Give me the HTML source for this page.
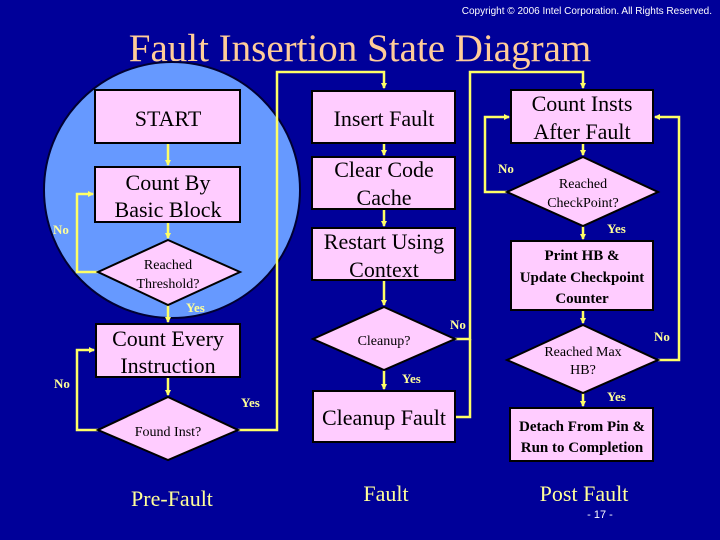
<!DOCTYPE html>
<html><head><meta charset="utf-8"><style>
html,body{margin:0;padding:0;background:#000099;}
svg{display:block}
</style></head><body>
<svg width="720" height="540" viewBox="0 0 720 540" xmlns="http://www.w3.org/2000/svg">
<defs><marker id="a" markerWidth="6" markerHeight="6" refX="5" refY="3" orient="auto" markerUnits="userSpaceOnUse"><path d="M0,0 L6,3 L0,6Z" fill="#ffff66"/></marker></defs>
<rect width="720" height="540" fill="#000099"/>
<text x="712" y="14" text-anchor="end" font-family="Liberation Sans, sans-serif" font-size="10" fill="#fff">Copyright © 2006  Intel Corporation.  All Rights Reserved.</text>
<text x="360" y="61" text-anchor="middle" font-family="Liberation Serif, serif" font-size="39" fill="#ffcc99">Fault Insertion State Diagram</text>
<circle cx="172" cy="190" r="128" fill="#6699ff" stroke="#000033" stroke-width="2"/>

<g fill="none" stroke="#ffff66" stroke-width="2.5">
<line x1="168" y1="143" x2="168" y2="165" marker-end="url(#a)"/>
<line x1="168" y1="222" x2="168" y2="238" marker-end="url(#a)"/>
<polyline points="98,272 77,272 77,194 93,194" marker-end="url(#a)"/>
<line x1="168" y1="305" x2="168" y2="322" marker-end="url(#a)"/>
<line x1="168" y1="377" x2="168" y2="395" marker-end="url(#a)"/>
<polyline points="98,430 77,430 77,350 94,350" marker-end="url(#a)"/>
<polyline points="238,430 277,430 277,72 384,72 384,88" marker-end="url(#a)"/>
<line x1="384" y1="143" x2="384" y2="155" marker-end="url(#a)"/>
<line x1="384" y1="209" x2="384" y2="226" marker-end="url(#a)"/>
<line x1="384" y1="280" x2="384" y2="305" marker-end="url(#a)"/>
<line x1="384" y1="370" x2="384" y2="389" marker-end="url(#a)"/>
<polyline points="455,339 470,339 470,72 583,72 583,88" marker-end="url(#a)"/>
<polyline points="455,417 470,417 470,339"/>
<line x1="583" y1="143" x2="583" y2="155" marker-end="url(#a)"/>
<polyline points="507,192 485,192 485,117 509,117" marker-end="url(#a)"/>
<line x1="583" y1="226" x2="583" y2="239" marker-end="url(#a)"/>
<line x1="583" y1="310" x2="583" y2="323" marker-end="url(#a)"/>
<polyline points="658,360 679,360 679,117 655,117" marker-end="url(#a)"/>
<line x1="583" y1="393" x2="583" y2="406" marker-end="url(#a)"/>
</g>

<g fill="#ffccff" stroke="#000" stroke-width="2">
<rect x="95" y="90" width="145" height="53"/>
<rect x="95" y="167" width="145" height="55"/>
<polygon points="168,240 240,272 168,305 98,272"/>
<rect x="96" y="324" width="144" height="53"/>
<polygon points="168,397 238,430 168,460 98,430"/>
<rect x="312" y="91" width="143" height="52"/>
<rect x="312" y="157" width="143" height="52"/>
<rect x="312" y="228" width="143" height="52"/>
<polygon points="384,307 455,339 384,370 313,339"/>
<rect x="313" y="391" width="142" height="51"/>
<rect x="511" y="90" width="142" height="53"/>
<polygon points="583,157 658,192 583,226 507,192"/>
<rect x="511" y="241" width="142" height="69"/>
<polygon points="583,325 658,360 583,393 507,360"/>
<rect x="510" y="408" width="143" height="53"/>
</g>

<g font-family="Liberation Serif, serif" fill="#000" text-anchor="middle">
<text x="168" y="126" font-size="22">START</text>
<text x="168" y="190" font-size="22">Count By</text>
<text x="168" y="217" font-size="22">Basic Block</text>
<text x="168" y="269" font-size="14">Reached</text>
<text x="168" y="288" font-size="14">Threshold?</text>
<text x="168" y="346" font-size="22">Count Every</text>
<text x="168" y="373" font-size="22">Instruction</text>
<text x="168" y="436" font-size="14">Found Inst?</text>
<text x="384" y="126" font-size="22">Insert Fault</text>
<text x="384" y="177" font-size="22">Clear Code</text>
<text x="384" y="205" font-size="22">Cache</text>
<text x="384" y="249" font-size="22">Restart Using</text>
<text x="384" y="277" font-size="22">Context</text>
<text x="384" y="345" font-size="14">Cleanup?</text>
<text x="384" y="425" font-size="22">Cleanup Fault</text>
<text x="582" y="111" font-size="22">Count Insts</text>
<text x="582" y="139" font-size="22">After Fault</text>
<text x="583" y="188" font-size="14">Reached</text>
<text x="583" y="207" font-size="14">CheckPoint?</text>
<text x="582" y="260" font-size="15" font-weight="bold">Print HB &amp;</text>
<text x="582" y="282" font-size="15" font-weight="bold">Update Checkpoint</text>
<text x="582" y="303" font-size="15" font-weight="bold">Counter</text>
<text x="583" y="356" font-size="14">Reached Max</text>
<text x="583" y="374" font-size="14">HB?</text>
<text x="582" y="431" font-size="15" font-weight="bold">Detach From Pin &amp;</text>
<text x="582" y="452" font-size="15" font-weight="bold">Run to Completion</text>
</g>

<g font-family="Liberation Serif, serif" fill="#ffff99" text-anchor="middle" font-size="22">
<text x="172" y="506">Pre-Fault</text>
<text x="386" y="501">Fault</text>
<text x="584" y="501">Post Fault</text>
</g>
<text x="600" y="518" text-anchor="middle" font-family="Liberation Sans, sans-serif" font-size="11" fill="#fff">- 17 -</text>

<g font-family="Liberation Serif, serif" fill="#ffff99" font-weight="bold" font-size="13">
<text x="53" y="234">No</text>
<text x="186" y="312">Yes</text>
<text x="54" y="388">No</text>
<text x="241" y="407">Yes</text>
<text x="450" y="329">No</text>
<text x="402" y="383">Yes</text>
<text x="498" y="173">No</text>
<text x="607" y="233">Yes</text>
<text x="654" y="341">No</text>
<text x="607" y="401">Yes</text>
</g>
</svg>
</body></html>
